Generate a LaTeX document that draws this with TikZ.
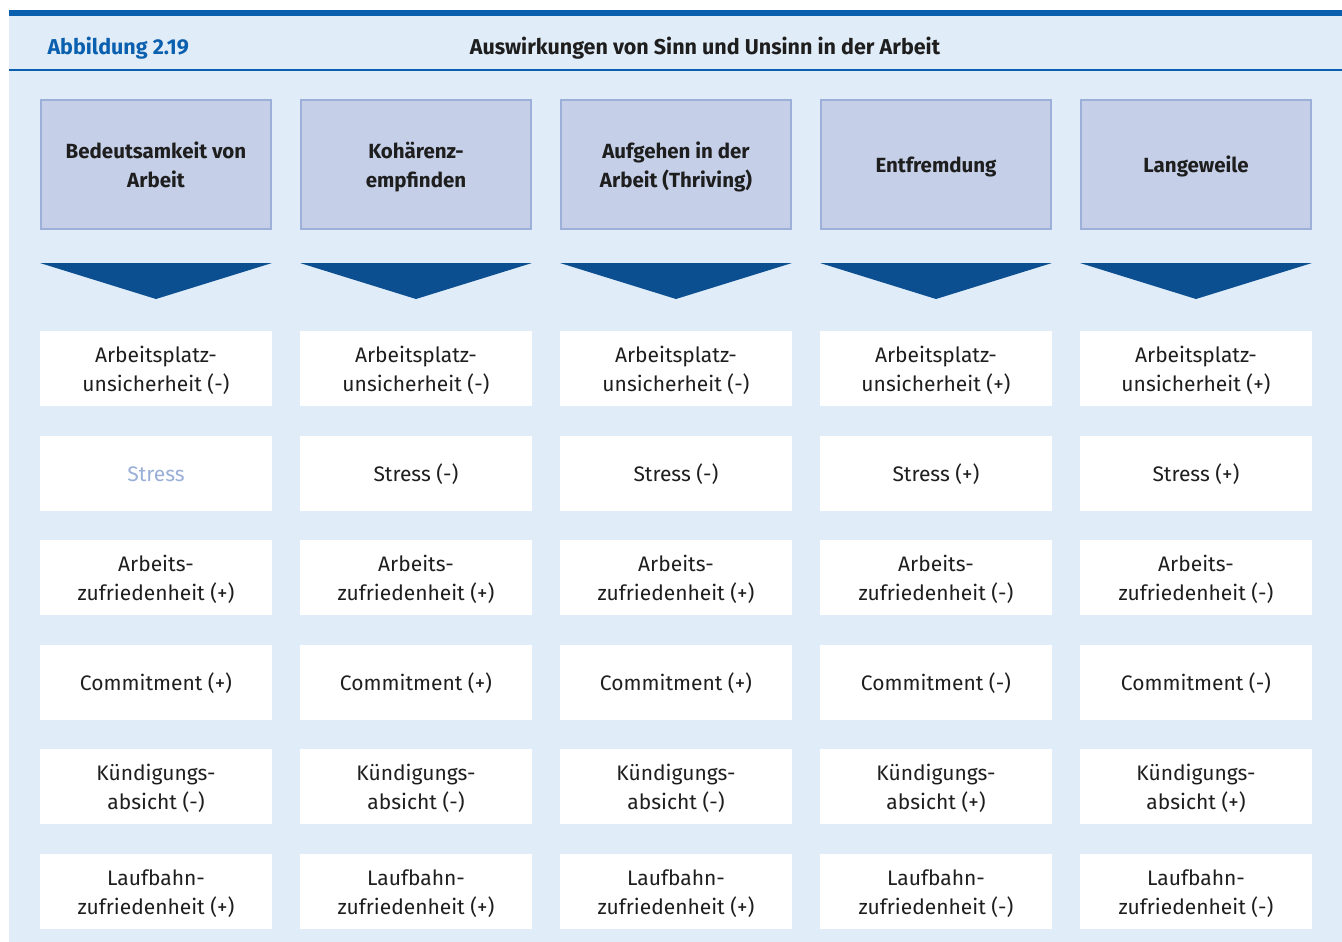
\documentclass[tikz,border=0pt]{standalone}
\usepackage{fontspec}
\setmainfont{Fira Sans}
\usetikzlibrary{positioning}
\definecolor{cBar}{HTML}{0A60AE}
\definecolor{cBack}{HTML}{E0ECF8}
\definecolor{cHeadFill}{HTML}{C5D0E8}
\definecolor{cHeadLine}{HTML}{9DB0DA}
\definecolor{cChev}{HTML}{0B4F91}
\definecolor{cText}{HTML}{1E1E1E}
\definecolor{cPale}{HTML}{9AAFD8}
% box text, set a little lower than the box centre
\newcommand{\lowtext}[1]{\raisebox{-2.5pt}[\height][\depth]{\begin{tabular}{@{}c@{}}#1\end{tabular}}}

\begin{document}
\begin{tikzpicture}
[
	x	= 1pt,	% one unit per pixel of the reference
	y	= -1pt,	% rows counted downwards
	head/.style	= {draw = cHeadLine, line width = 2pt, fill = cHeadFill, minimum width = 230pt, minimum height = 129pt, inner sep = 0pt, text = cText, font = \fontsize{20.5}{29}\selectfont\bfseries},
	cell/.style	= {fill = white, minimum width = 232pt, minimum height = 75pt, inner sep = 0pt, text = cText, font = \fontsize{21}{29}\selectfont},
	chev/.style	= {fill = cChev},
]

{
	% frame
	\useasboundingbox (0,0) rectangle (1342,942);
	\fill [cBack] (9,16) rectangle (1342,942);
	\fill [cBar] (9,10) rectangle (1342,16);
	\draw [cBar, line width = 1.5pt] (9,70) -- (1342,70);

	\node (nFigNum) [anchor = west, text = cBar, font = \fontsize{21.5}{24}\selectfont\bfseries] at (44,48) {Abbildung 2.19};
	\node (nTitle) [text = cText, font = \fontsize{21.5}{24}\selectfont\bfseries] at (705,48) {Auswirkungen von Sinn und Unsinn in der Arbeit};

	% header nodes
	\node (nHeadOne) [head] at (156,164.5) {\lowtext{Bedeutsamkeit von\\Arbeit}};
	\node (nHeadTwo) [head] at (416,164.5) {\lowtext{Kohärenz-\\empfinden}};
	\node (nHeadThree) [head] at (676,164.5) {\lowtext{Aufgehen in der\\Arbeit (Thriving)}};
	\node (nHeadFour) [head] at (936,164.5) {\lowtext{Entfremdung}};
	\node (nHeadFive) [head] at (1196,164.5) {\lowtext{Langeweile}};

	% chevrons
	\fill [chev] (40,263) -- (272,263) -- (156,299) -- cycle;
	\fill [chev] (300,263) -- (532,263) -- (416,299) -- cycle;
	\fill [chev] (560,263) -- (792,263) -- (676,299) -- cycle;
	\fill [chev] (820,263) -- (1052,263) -- (936,299) -- cycle;
	\fill [chev] (1080,263) -- (1312,263) -- (1196,299) -- cycle;

	% row one
	\node (nOneOne) [cell] at (156,368.5) {\lowtext{Arbeitsplatz-\\unsicherheit (-)}};
	\node (nOneTwo) [cell] at (416,368.5) {\lowtext{Arbeitsplatz-\\unsicherheit (-)}};
	\node (nOneThree) [cell] at (676,368.5) {\lowtext{Arbeitsplatz-\\unsicherheit (-)}};
	\node (nOneFour) [cell] at (936,368.5) {\lowtext{Arbeitsplatz-\\unsicherheit (+)}};
	\node (nOneFive) [cell] at (1196,368.5) {\lowtext{Arbeitsplatz-\\unsicherheit (+)}};

	% row two
	\node (nTwoOne) [cell, text = cPale] at (156,473.5) {\lowtext{Stress}};
	\node (nTwoTwo) [cell] at (416,473.5) {\lowtext{Stress (-)}};
	\node (nTwoThree) [cell] at (676,473.5) {\lowtext{Stress (-)}};
	\node (nTwoFour) [cell] at (936,473.5) {\lowtext{Stress (+)}};
	\node (nTwoFive) [cell] at (1196,473.5) {\lowtext{Stress (+)}};

	% row three
	\node (nThreeOne) [cell] at (156,577.5) {\lowtext{Arbeits-\\zufriedenheit (+)}};
	\node (nThreeTwo) [cell] at (416,577.5) {\lowtext{Arbeits-\\zufriedenheit (+)}};
	\node (nThreeThree) [cell] at (676,577.5) {\lowtext{Arbeits-\\zufriedenheit (+)}};
	\node (nThreeFour) [cell] at (936,577.5) {\lowtext{Arbeits-\\zufriedenheit (-)}};
	\node (nThreeFive) [cell] at (1196,577.5) {\lowtext{Arbeits-\\zufriedenheit (-)}};

	% row four
	\node (nFourOne) [cell] at (156,682.5) {\lowtext{Commitment (+)}};
	\node (nFourTwo) [cell] at (416,682.5) {\lowtext{Commitment (+)}};
	\node (nFourThree) [cell] at (676,682.5) {\lowtext{Commitment (+)}};
	\node (nFourFour) [cell] at (936,682.5) {\lowtext{Commitment (-)}};
	\node (nFourFive) [cell] at (1196,682.5) {\lowtext{Commitment (-)}};

	% row five
	\node (nFiveOne) [cell] at (156,786.5) {\lowtext{Kündigungs-\\absicht (-)}};
	\node (nFiveTwo) [cell] at (416,786.5) {\lowtext{Kündigungs-\\absicht (-)}};
	\node (nFiveThree) [cell] at (676,786.5) {\lowtext{Kündigungs-\\absicht (-)}};
	\node (nFiveFour) [cell] at (936,786.5) {\lowtext{Kündigungs-\\absicht (+)}};
	\node (nFiveFive) [cell] at (1196,786.5) {\lowtext{Kündigungs-\\absicht (+)}};

	% row six
	\node (nSixOne) [cell] at (156,891.5) {\lowtext{Laufbahn-\\zufriedenheit (+)}};
	\node (nSixTwo) [cell] at (416,891.5) {\lowtext{Laufbahn-\\zufriedenheit (+)}};
	\node (nSixThree) [cell] at (676,891.5) {\lowtext{Laufbahn-\\zufriedenheit (+)}};
	\node (nSixFour) [cell] at (936,891.5) {\lowtext{Laufbahn-\\zufriedenheit (-)}};
	\node (nSixFive) [cell] at (1196,891.5) {\lowtext{Laufbahn-\\zufriedenheit (-)}};
}

\end{tikzpicture}
\end{document}
